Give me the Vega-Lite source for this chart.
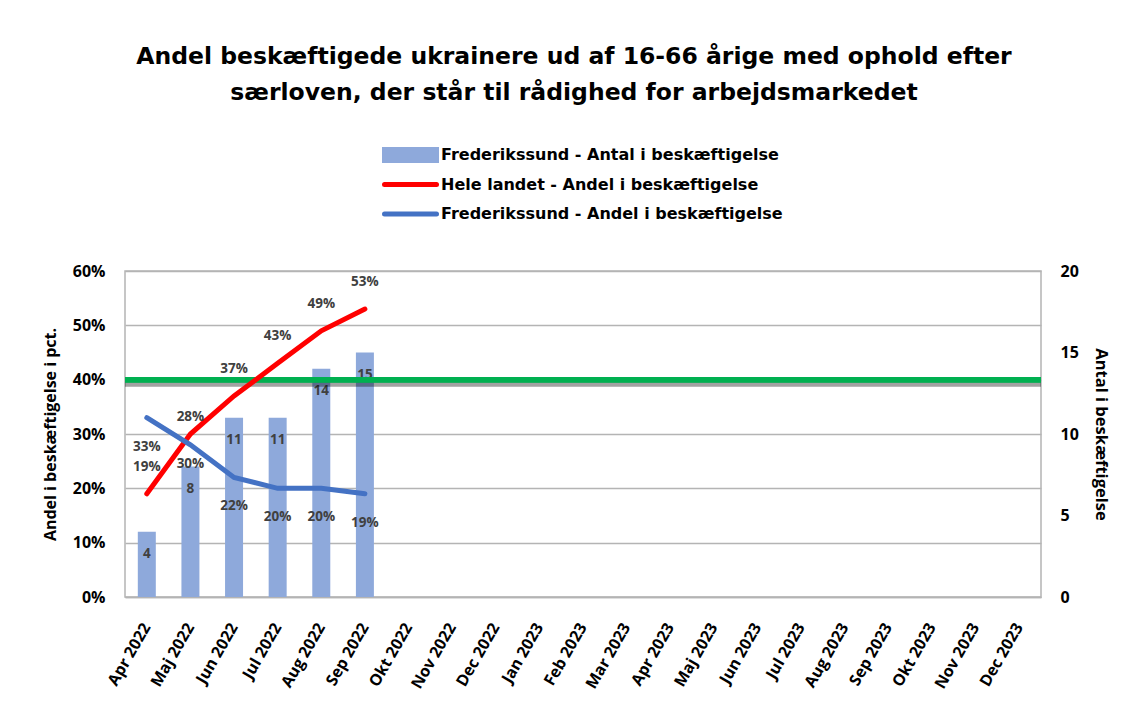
{
  "$schema": "https://vega.github.io/schema/vega-lite/v6.json",
  "width": 916,
  "height": 326,
  "autosize": "none",
  "padding": {"left": 125, "top": 271, "right": 86, "bottom": 131},
  "background": "white",
  "title": {
    "text": ["Andel beskæftigede ukrainere ud af 16-66 årige med ophold efter", "særloven, der står til rådighed for arbejdsmarkedet"],
    "anchor": "middle",
    "frame": "group",
    "dx": -9,
    "offset": 43,
    "font": "DejaVu Sans",
    "fontSize": 23.5,
    "fontWeight": "bold",
    "color": "black",
    "lineHeight": 36
  },
  "config": {
    "font": "Open Sans",
    "view": {"stroke": "#b4b4b4", "strokeWidth": 1.5}
  },
  "data": {
    "values": [
      {"month": "Apr 2022", "antal": 4, "hele": 0.19, "fred": 0.33},
      {"month": "Maj 2022", "antal": 8, "hele": 0.30, "fred": 0.28},
      {"month": "Jun 2022", "antal": 11, "hele": 0.37, "fred": 0.22},
      {"month": "Jul 2022", "antal": 11, "hele": 0.43, "fred": 0.20},
      {"month": "Aug 2022", "antal": 14, "hele": 0.49, "fred": 0.20},
      {"month": "Sep 2022", "antal": 15, "hele": 0.53, "fred": 0.19}
    ]
  },
  "layer": [
    {
      "layer": [
        {
          "mark": {"type": "bar", "size": 18},
          "encoding": {
            "x": {
              "field": "month",
              "type": "ordinal",
              "sort": null,
              "scale": {
                "domain": ["Apr 2022", "Maj 2022", "Jun 2022", "Jul 2022", "Aug 2022", "Sep 2022", "Okt 2022", "Nov 2022", "Dec 2022", "Jan 2023", "Feb 2023", "Mar 2023", "Apr 2023", "Maj 2023", "Jun 2023", "Jul 2023", "Aug 2023", "Sep 2023", "Okt 2023", "Nov 2023", "Dec 2023"],
                "paddingInner": 0.2,
                "paddingOuter": 0.1
              },
              "axis": {
                "title": null,
                "labelAngle": -60,
                "labelAlign": "right",
                "labelBaseline": "middle",
                "labelFontSize": 16,
                "labelFontWeight": "bold",
                "labelColor": "black",
                "labelPadding": 27,
                "ticks": false,
                "domainColor": "#b4b4b4",
                "domainWidth": 1.5,
                "labelOverlap": false
              }
            },
            "y": {
              "field": "antal",
              "type": "quantitative",
              "scale": {"domain": [0, 20]},
              "axis": {
                "orient": "right",
                "title": "Antal i beskæftigelse",
                "values": [0, 5, 10, 15, 20],
                "grid": false,
                "ticks": false,
                "domain": false,
                "labelFontSize": 16,
                "labelFontWeight": "bold",
                "labelColor": "black",
                "labelPadding": 19,
                "titleFontSize": 16.5,
                "titleFontWeight": "bold",
                "titleColor": "black",
                "titlePadding": 14
              }
            },
            "color": {
              "datum": "Frederikssund - Antal i beskæftigelse",
              "scale": {
                "domain": ["Frederikssund - Antal i beskæftigelse", "Hele landet - Andel i beskæftigelse", "Frederikssund - Andel i beskæftigelse"],
                "range": ["#8EA9DB", "#FF0000", "#4472C4"]
              },
              "legend": {
                "orient": "none",
                "legendX": 257,
                "legendY": -124,
                "title": null,
                "symbolSize": 2704,
                "clipHeight": 16,
                "rowPadding": 13.5,
                "labelFont": "DejaVu Sans",
                "labelFontSize": 16,
                "labelFontWeight": "bold",
                "labelColor": "black",
                "labelOffset": 2,
                "labelLimit": 0,
                "encode": {
                  "symbols": {
                    "update": {
                      "shape": {"signal": "datum.value === 'Frederikssund - Antal i beskæftigelse' ? 'M-1,-0.21H1V0.21H-1Z' : 'stroke'"},
                      "fill": {"signal": "datum.value === 'Frederikssund - Antal i beskæftigelse' ? scale('color', datum.value) : 'transparent'"},
                      "stroke": {"signal": "datum.value === 'Frederikssund - Antal i beskæftigelse' ? 'transparent' : scale('color', datum.value)"},
                      "strokeWidth": {"value": 5},
                      "strokeCap": {"value": "round"},
                      "opacity": {"value": 1}
                    }
                  }
                }
              }
            }
          }
        },
        {
          "mark": {"type": "text", "dy": 22, "fontSize": 13.5, "fontWeight": "bold", "color": "#404040"},
          "encoding": {
            "x": {"field": "month", "type": "ordinal"},
            "y": {"field": "antal", "type": "quantitative"},
            "text": {"field": "antal", "type": "quantitative"}
          }
        }
      ]
    },
    {
      "layer": [
        {
          "mark": {"type": "rule", "color": "#000000", "opacity": 0.07, "strokeWidth": 6, "yOffset": 4},
          "encoding": {
            "y": {
              "datum": 0.4,
              "type": "quantitative",
              "scale": {"domain": [0, 0.6]},
              "axis": {
                "orient": "left",
                "title": "Andel i beskæftigelse i pct.",
                "values": [0, 0.1, 0.2, 0.3, 0.4, 0.5, 0.6],
                "format": ".0%",
                "grid": true,
                "gridColor": "#b4b4b4",
                "gridWidth": 1.5,
                "ticks": false,
                "domain": false,
                "labelFontSize": 16,
                "labelFontWeight": "bold",
                "labelColor": "black",
                "labelPadding": 20,
                "titleFontSize": 16,
                "titleFontWeight": "bold",
                "titleColor": "black",
                "titlePadding": 14
              }
            }
          }
        },
        {
          "mark": {"type": "rule", "color": "#00B050", "strokeWidth": 5},
          "encoding": {
            "y": {"datum": 0.4, "type": "quantitative"}
          }
        },
        {
          "mark": {"type": "line", "strokeWidth": 5, "strokeCap": "round"},
          "encoding": {
            "x": {"field": "month", "type": "ordinal"},
            "y": {"field": "hele", "type": "quantitative"},
            "color": {"datum": "Hele landet - Andel i beskæftigelse"}
          }
        },
        {
          "mark": {"type": "line", "strokeWidth": 5, "strokeCap": "round"},
          "encoding": {
            "x": {"field": "month", "type": "ordinal"},
            "y": {"field": "fred", "type": "quantitative"},
            "color": {"datum": "Frederikssund - Andel i beskæftigelse"}
          }
        },
        {
          "transform": [{"filter": "datum.month !== 'Maj 2022'"}],
          "mark": {"type": "text", "dy": -27, "fontSize": 13.5, "fontWeight": "bold", "color": "#404040"},
          "encoding": {
            "x": {"field": "month", "type": "ordinal"},
            "y": {"field": "hele", "type": "quantitative"},
            "text": {"field": "hele", "type": "quantitative", "format": ".0%"}
          }
        },
        {
          "transform": [{"filter": "datum.month === 'Maj 2022'"}],
          "mark": {"type": "text", "dy": 30, "fontSize": 13.5, "fontWeight": "bold", "color": "#404040"},
          "encoding": {
            "x": {"field": "month", "type": "ordinal"},
            "y": {"field": "hele", "type": "quantitative"},
            "text": {"field": "hele", "type": "quantitative", "format": ".0%"}
          }
        },
        {
          "transform": [{"filter": "datum.month !== 'Maj 2022'"}],
          "mark": {"type": "text", "dy": 29, "fontSize": 13.5, "fontWeight": "bold", "color": "#404040"},
          "encoding": {
            "x": {"field": "month", "type": "ordinal"},
            "y": {"field": "fred", "type": "quantitative"},
            "text": {"field": "fred", "type": "quantitative", "format": ".0%"}
          }
        },
        {
          "transform": [{"filter": "datum.month === 'Maj 2022'"}],
          "mark": {"type": "text", "dy": -28, "fontSize": 13.5, "fontWeight": "bold", "color": "#404040"},
          "encoding": {
            "x": {"field": "month", "type": "ordinal"},
            "y": {"field": "fred", "type": "quantitative"},
            "text": {"field": "fred", "type": "quantitative", "format": ".0%"}
          }
        }
      ]
    }
  ],
  "resolve": {"scale": {"y": "independent"}}
}
